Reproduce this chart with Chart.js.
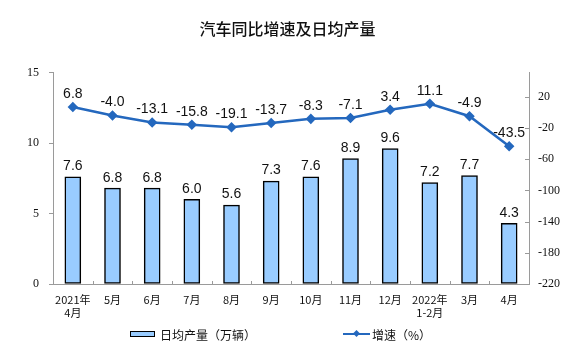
<!DOCTYPE html>
<html>
<head>
<meta charset="utf-8">
<script src="https://cdn.jsdelivr.net/npm/chart.js@4.4.1/dist/chart.umd.min.js"></script>
<style>
  html, body { margin: 0; padding: 0; background: #fff; }
  #wrap { position: relative; width: 575px; height: 355px; }
  #legend { position: absolute; left: 0; top: 0; width: 575px; height: 355px; pointer-events: none;
            font-family: "Noto Sans CJK SC", sans-serif; font-size: 12px; color: #111; }
  .lg-item { position: absolute; display: flex; align-items: center; white-space: nowrap; }
</style>
</head>
<body>
<div id="wrap">
  <canvas id="c"></canvas>
  <div id="legend"></div>
</div>
<script>
// ---- data ----
const categories = [["2021年", "4月"], "5月", "6月", "7月", "8月", "9月", "10月", "11月", "12月", ["2022年", "1-2月"], "3月", "4月"];
const dailyOutput = [7.6, 6.8, 6.8, 6.0, 5.6, 7.3, 7.6, 8.9, 9.6, 7.2, 7.7, 4.3];
const growthRate = [6.8, -4.0, -13.1, -15.8, -19.1, -13.7, -8.3, -7.1, 3.4, 11.1, -4.9, -43.5];
const leftTicks = [0, 5, 10, 15];
const rightTicks = [-220, -180, -140, -100, -60, -20, 20];
const titleText = "汽车同比增速及日均产量";
const barLabel = "日均产量（万辆）";
const lineLabel = "增速（%）";

const BAR_FILL = "#99CCFF";
const LINE_COLOR = "#2468BE";
const AXIS_COLOR = "#9a9a9a";

const dataLabelPlugin = {
  id: "dataLabels",
  afterDatasetsDraw(chart) {
    const ctx = chart.ctx;
    ctx.save();
    ctx.font = "14px 'Liberation Sans', Arial, sans-serif";
    ctx.fillStyle = "#111";
    ctx.textAlign = "center";
    ctx.textBaseline = "middle";
    chart.data.datasets.forEach((ds, di) => {
      const meta = chart.getDatasetMeta(di);
      meta.data.forEach((el, i) => {
        const v = ds.data[i];
        const off = ds.type === "line" ? 13 : 10.5;
        ctx.fillText(v.toFixed(1), el.x, el.y - off);
      });
    });
    ctx.restore();
  }
};

const innerTicksPlugin = {
  id: "innerTicks",
  afterDraw(chart) {
    const ctx = chart.ctx;
    const x = chart.scales.x, y1 = chart.scales.y1;
    ctx.save();
    ctx.strokeStyle = AXIS_COLOR;
    ctx.lineWidth = 1;
    ctx.beginPath();
    for (let k = 1; k < categories.length; k++) {
      const px = Math.round(x.getPixelForValue(k - 0.5)) + 0.5;
      ctx.moveTo(px, x.top - 3);
      ctx.lineTo(px, x.top);
    }
    y1.ticks.forEach(t => {
      const py = Math.round(y1.getPixelForValue(t.value)) + 0.5;
      ctx.moveTo(y1.left - 4, py);
      ctx.lineTo(y1.left, py);
    });
    ctx.stroke();
    ctx.restore();
  }
};

const chart = new Chart(document.getElementById("c"), {
  data: {
    labels: categories,
    datasets: [
      {
        type: "line",
        label: lineLabel,
        data: growthRate,
        yAxisID: "y1",
        borderColor: LINE_COLOR,
        backgroundColor: LINE_COLOR,
        borderWidth: 2.5,
        pointStyle: "rectRot",
        pointRadius: 3.5,
        pointBackgroundColor: LINE_COLOR,
        pointBorderColor: LINE_COLOR,
        tension: 0,
        order: 0
      },
      {
        type: "bar",
        label: barLabel,
        data: dailyOutput,
        yAxisID: "y",
        backgroundColor: BAR_FILL,
        borderColor: "#000",
        borderWidth: 1.5,
        borderSkipped: false,
        barThickness: 16,
        order: 1
      }
    ]
  },
  options: {
    responsive: true,
    maintainAspectRatio: false,
    animation: false,
    layout: { padding: 0 },
    plugins: {
      legend: { display: false },
      tooltip: { enabled: false },
      title: {
        display: true,
        text: titleText,
        color: "#111",
        font: { family: "'Noto Sans CJK SC', sans-serif", size: 16, weight: "500", lineHeight: 1.2 },
        padding: { top: 19.4, bottom: 34 }
      }
    },
    scales: {
      x: {
        offset: true,
        grid: { display: false, drawTicks: false },
        border: { display: true, color: AXIS_COLOR, width: 1 },
        ticks: {
          autoSkip: false, maxRotation: 0, minRotation: 0, padding: 9,
          color: "#111",
          font: { family: "'Noto Sans CJK SC', sans-serif", size: 11, lineHeight: 1.2 }
        },
        afterFit(scale) { scale.height = 71; }
      },
      y: {
        position: "left",
        min: 0, max: 15,
        afterBuildTicks(axis) { axis.ticks = leftTicks.map(v => ({ value: v })); },
        grid: { drawOnChartArea: false, drawTicks: true, tickLength: 4, color: AXIS_COLOR },
        border: { display: true, color: AXIS_COLOR, width: 1 },
        ticks: {
          padding: 10, color: "#111",
          font: { family: "'Liberation Serif', 'Times New Roman', serif", size: 12 }
        },
        afterFit(scale) { scale.width = 53; }
      },
      y1: {
        position: "right",
        min: -220, max: 51,
        afterBuildTicks(axis) { axis.ticks = rightTicks.map(v => ({ value: v })); },
        grid: { drawOnChartArea: false, drawTicks: false },
        border: { display: true, color: AXIS_COLOR, width: 1 },
        ticks: {
          padding: 9, color: "#111",
          font: { family: "'Liberation Serif', 'Times New Roman', serif", size: 12 }
        },
        afterFit(scale) { scale.width = 46; }
      }
    }
  },
  plugins: [dataLabelPlugin, innerTicksPlugin]
});

// HTML legend built from the chart's datasets
(function buildLegend() {
  const lg = document.getElementById("legend");
  const barDs = chart.data.datasets.find(d => d.type === "bar");
  const lineDs = chart.data.datasets.find(d => d.type === "line");

  const a = document.createElement("div");
  a.className = "lg-item";
  a.style.left = "130px"; a.style.top = "326px"; a.style.height = "16px";
  const sw = document.createElement("span");
  sw.style.cssText = "display:inline-block;box-sizing:border-box;width:25px;height:6px;border:1.5px solid #000;margin-right:5px;background:" + barDs.backgroundColor;
  const at = document.createElement("span"); at.textContent = barDs.label;
  a.appendChild(sw); a.appendChild(at);
  lg.appendChild(a);

  const b = document.createElement("div");
  b.className = "lg-item";
  b.style.left = "343px"; b.style.top = "326px"; b.style.height = "16px";
  const ln = document.createElement("span");
  ln.style.cssText = "position:relative;display:inline-block;width:27px;height:2.5px;margin-right:2px;background:" + lineDs.borderColor;
  const dm = document.createElement("span");
  dm.style.cssText = "position:absolute;left:11px;top:-1.75px;width:5px;height:5px;transform:rotate(45deg);background:" + lineDs.borderColor;
  ln.appendChild(dm);
  const bt = document.createElement("span"); bt.textContent = lineDs.label;
  b.appendChild(ln); b.appendChild(bt);
  lg.appendChild(b);
})();
</script>
</body>
</html>
